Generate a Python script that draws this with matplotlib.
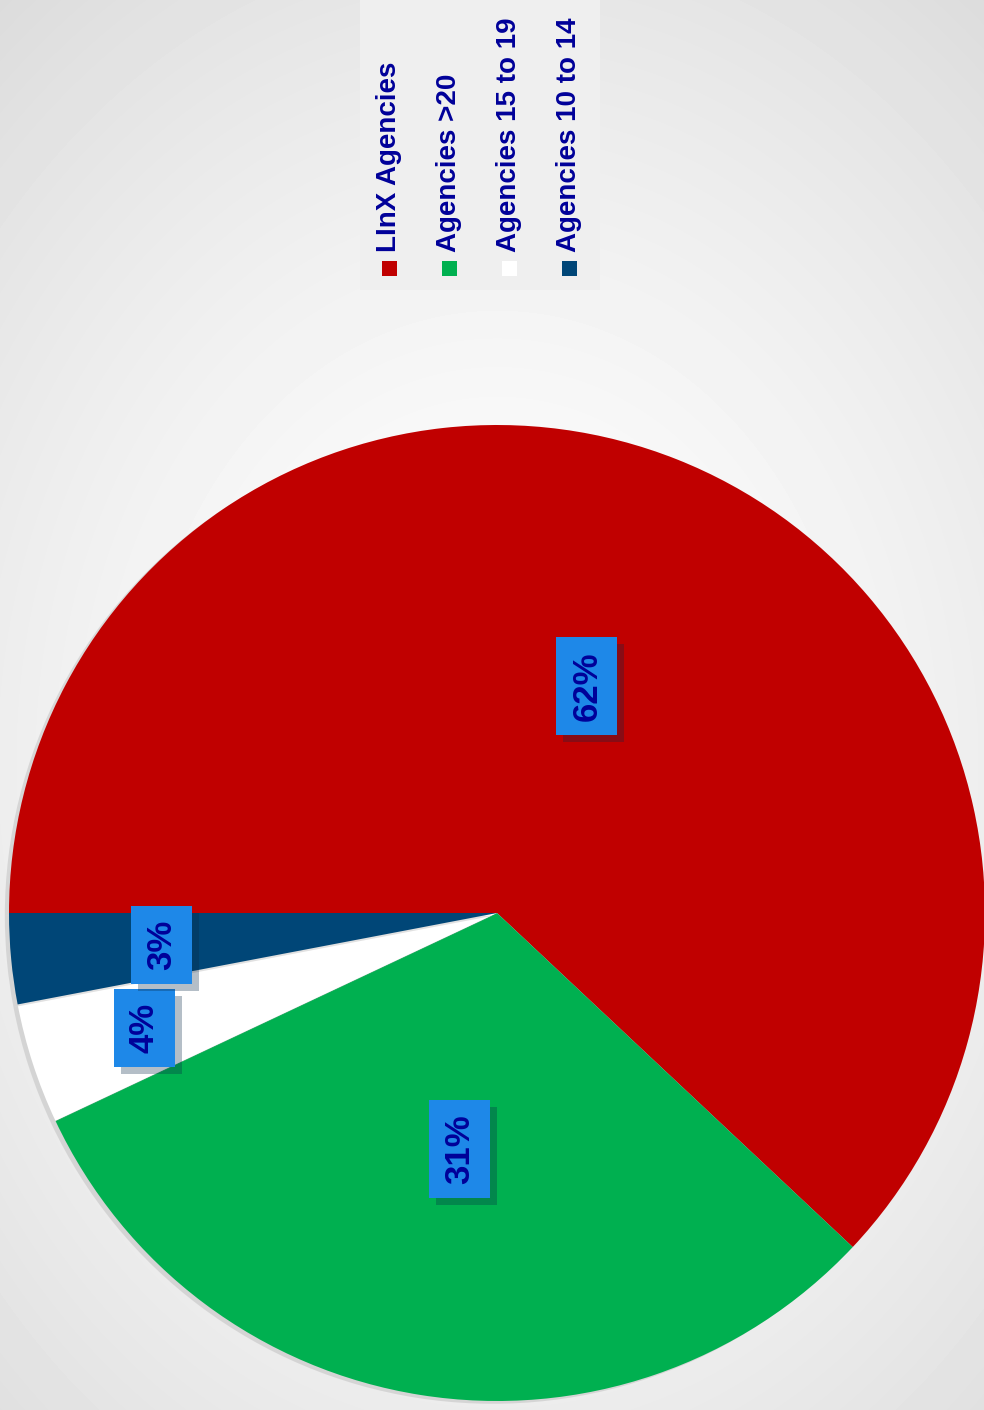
import numpy as np
import matplotlib
matplotlib.use("Agg")
from matplotlib import pyplot as plt
from matplotlib.patches import Rectangle
import matplotlib.patheffects as pe

# data
labels = ["LInX Agencies", "Agencies >20", "Agencies 15 to 19", "Agencies 10 to 14"]
values = [62, 31, 4, 3]
colors = ["#c00000", "#00b050", "#ffffff", "#004677"]

plt.rcParams['font.family'] = ['Liberation Sans', 'DejaVu Sans']

W, H = 984, 1410
fig = plt.figure(figsize=(W / 100, H / 100), dpi=100)

# radial background
bg = fig.add_axes([0, 0, 1, 1])
yy, xx = np.mgrid[0:H, 0:W]
r = np.hypot(xx - 497, (yy - 760) * 0.8) / 900.0
shade = 1.0 - 0.17 * np.clip(r, 0, 1) ** 1.5
bg.imshow(shade, cmap="gray", vmin=0, vmax=1, aspect="auto", extent=[0, W, H, 0])
bg.set_xlim(0, W)
bg.set_ylim(H, 0)
bg.axis("off")

# legend box (drawn manually, text rotated)
bg.add_patch(Rectangle((360, 0), 240, 290, facecolor="#efefef", edgecolor="none"))
for i, lab in enumerate(labels):
    x = 389 + i * 60
    bg.add_patch(Rectangle((x - 7.5, 261), 15, 15, facecolor=colors[i], edgecolor="none"))
    bg.text(x, 252, lab, rotation=90, ha="center", va="bottom", fontsize=20,
            fontweight="bold", color="#000099")

# pie axes
cx, cy, rad = 497, 913, 488
ax = fig.add_axes([(cx - rad) / W, (H - cy - rad) / H, 2 * rad / W, 2 * rad / H])
wedges, texts, autotexts = ax.pie(values, colors=colors, startangle=180, counterclock=False,
                                  radius=1, autopct="%1.0f%%", pctdistance=0.5,
                                  wedgeprops=dict(linewidth=0))
for w in wedges:
    w.set_path_effects([pe.SimplePatchShadow(offset=(-3, -2), shadow_rgbFace="#aaaaaa", alpha=0.35),
                        pe.Normal()])

label_dist = [0.5, 0.49, 0.76, 0.69]
for w, t, d in zip(wedges, autotexts, label_dist):
    ang = np.deg2rad((w.theta1 + w.theta2) / 2)
    t.set_position((d * np.cos(ang), d * np.sin(ang)))
    t.set_rotation(90)
    t.set_fontsize(25)
    t.set_fontweight("bold")
    t.set_color("#000099")
    t.set_ha("center")
    t.set_va("center")
    t.set_bbox(dict(boxstyle="square,pad=0.4", facecolor="#1e88e8", edgecolor="none"))
    t.get_bbox_patch().set_path_effects([pe.SimplePatchShadow(offset=(5, -5), alpha=0.3),
                                         pe.Normal()])
ax.set_xlim(-1, 1)
ax.set_ylim(-1, 1)
ax.set_aspect("equal")
ax.axis("off")

fig.savefig("out.png", dpi=100)
